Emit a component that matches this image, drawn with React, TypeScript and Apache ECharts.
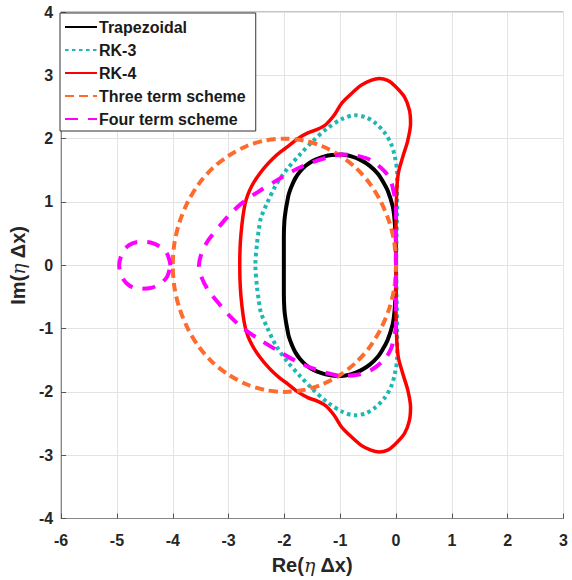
import React, { useEffect, useRef } from "react";
import * as echarts from "echarts";

const xTicks = { min: -6, max: 3, interval: 1 };
const yTicks = { min: -4, max: 4, interval: 1 };

const seriesNames = ["Trapezoidal", "RK-3", "RK-4", "Three term scheme", "Four term scheme"];

const trapUpper = [
  [0, 0], [0, 0.3], [-0.01, 0.5], [-0.03, 0.75], [-0.06, 0.93], [-0.15, 1.18], [-0.24, 1.33],
  [-0.33, 1.45], [-0.47, 1.57], [-0.63, 1.66], [-0.8, 1.72], [-0.98, 1.75], [-1.15, 1.74],
  [-1.28, 1.72], [-1.41, 1.68], [-1.51, 1.64], [-1.62, 1.57], [-1.72, 1.48], [-1.8, 1.38],
  [-1.86, 1.27], [-1.92, 1.13], [-1.95, 1.0], [-1.98, 0.85], [-2.0, 0.7], [-2.01, 0.45],
  [-2.01, 0.2], [-2.01, 0],
];
const trapLower = [
  [-2.01, -0.2], [-2.01, -0.45], [-2.0, -0.7], [-1.98, -0.85], [-1.95, -1.0], [-1.92, -1.13],
  [-1.86, -1.27], [-1.8, -1.38], [-1.72, -1.48], [-1.62, -1.57], [-1.51, -1.64], [-1.41, -1.68],
  [-1.28, -1.72], [-1.15, -1.74], [-0.98, -1.75], [-0.8, -1.72], [-0.63, -1.66], [-0.47, -1.57],
  [-0.33, -1.45], [-0.24, -1.33], [-0.15, -1.18], [-0.06, -0.93], [-0.03, -0.75], [-0.01, -0.5],
  [0, -0.3], [0, 0],
];

const rk3Upper = [
  [0, 0], [0.01, 0.5], [0.02, 1.03], [0.02, 1.45], [-0.02, 1.71], [-0.09, 1.92], [-0.21, 2.1],
  [-0.39, 2.26], [-0.55, 2.34], [-0.74, 2.37], [-0.97, 2.31], [-1.22, 2.17], [-1.48, 1.97],
  [-1.72, 1.75], [-1.95, 1.52], [-2.15, 1.27], [-2.3, 1.0], [-2.42, 0.75], [-2.46, 0.55],
  [-2.49, 0.35], [-2.52, 0],
];
const rk3Lower = [
  [-2.49, -0.35], [-2.46, -0.55], [-2.42, -0.75], [-2.3, -1.0], [-2.15, -1.27], [-1.95, -1.52],
  [-1.72, -1.75], [-1.48, -1.97], [-1.22, -2.17], [-0.97, -2.31], [-0.74, -2.37], [-0.55, -2.34],
  [-0.39, -2.26], [-0.21, -2.1], [-0.09, -1.92], [-0.02, -1.71], [0.02, -1.45], [0.02, -1.03],
  [0.01, -0.5], [0, 0],
];

const rk4Upper = [
  [0, 0], [0, 0.61], [0.01, 1.13], [0.04, 1.45], [0.12, 1.71], [0.21, 1.97], [0.26, 2.24],
  [0.24, 2.45], [0.15, 2.66], [-0.03, 2.84], [-0.15, 2.92], [-0.3, 2.95], [-0.45, 2.92],
  [-0.63, 2.84], [-0.86, 2.66], [-0.98, 2.55], [-1.1, 2.38], [-1.26, 2.22], [-1.4, 2.15],
  [-1.58, 2.09], [-1.76, 2.0], [-1.93, 1.88], [-2.07, 1.79], [-2.2, 1.69], [-2.33, 1.57],
  [-2.44, 1.45], [-2.54, 1.32], [-2.62, 1.19], [-2.68, 1.05], [-2.72, 0.9], [-2.76, 0.65],
  [-2.79, 0.35], [-2.8, 0],
];
const rk4Lower = [
  [-2.79, -0.35], [-2.76, -0.65], [-2.72, -0.9], [-2.68, -1.05], [-2.62, -1.19], [-2.54, -1.32],
  [-2.44, -1.45], [-2.33, -1.57], [-2.2, -1.69], [-2.07, -1.79], [-1.93, -1.88], [-1.76, -2.0],
  [-1.58, -2.09], [-1.4, -2.15], [-1.26, -2.22], [-1.1, -2.38], [-0.98, -2.55], [-0.86, -2.66],
  [-0.63, -2.84], [-0.45, -2.92], [-0.3, -2.95], [-0.15, -2.92], [-0.03, -2.84], [0.15, -2.66],
  [0.24, -2.45], [0.26, -2.24], [0.21, -1.97], [0.12, -1.71], [0.04, -1.45], [0.01, -1.13],
  [0, -0.61], [0, 0],
];

const threeUpper = [
  [0, 0], [-0.03, 0.35], [-0.12, 0.68], [-0.27, 1.0], [-0.47, 1.29], [-0.71, 1.53], [-1.0, 1.73],
  [-1.32, 1.88], [-1.65, 1.97], [-2.0, 2.0], [-2.35, 1.97], [-2.68, 1.88], [-3.0, 1.73],
  [-3.29, 1.53], [-3.53, 1.29], [-3.73, 1.0], [-3.88, 0.68], [-3.97, 0.35], [-4.0, 0],
];
const threeLower = [
  [-3.97, -0.35], [-3.88, -0.68], [-3.73, -1.0], [-3.53, -1.29], [-3.29, -1.53], [-3.0, -1.73],
  [-2.68, -1.88], [-2.35, -1.97], [-2.0, -2.0], [-1.65, -1.97], [-1.32, -1.88], [-1.0, -1.73],
  [-0.71, -1.53], [-0.47, -1.29], [-0.27, -1.0], [-0.12, -0.68], [-0.03, -0.35], [0, 0],
];

const fourUpper = [
  [0, 0], [0, 0.45], [0, 0.95], [-0.04, 1.15], [-0.09, 1.32], [-0.2, 1.48], [-0.45, 1.66],
  [-0.7, 1.73], [-0.97, 1.75], [-1.2, 1.71], [-1.49, 1.63], [-1.78, 1.52], [-2.08, 1.37],
  [-2.47, 1.16], [-2.75, 0.99], [-2.96, 0.82], [-3.15, 0.63], [-3.36, 0.4], [-3.48, 0.2],
  [-3.53, 0],
];
const fourLower = [
  [-3.48, -0.2], [-3.36, -0.4], [-3.15, -0.63], [-2.96, -0.82], [-2.75, -0.99], [-2.47, -1.16],
  [-2.08, -1.37], [-1.78, -1.52], [-1.49, -1.63], [-1.2, -1.71], [-0.97, -1.75], [-0.7, -1.73],
  [-0.45, -1.66], [-0.2, -1.48], [-0.09, -1.32], [-0.04, -1.15], [0, -0.95], [0, -0.45], [0, 0],
];
const fourLoop = [
  [-4.04, 0], [-4.1, 0.18], [-4.22, 0.29], [-4.4, 0.36], [-4.6, 0.37], [-4.78, 0.32], [-4.9, 0.2],
  [-4.96, 0], [-4.9, -0.2], [-4.78, -0.32], [-4.6, -0.37], [-4.4, -0.36], [-4.22, -0.29],
  [-4.1, -0.18], [-4.04, 0],
];

const FONT = "'Liberation Sans', Arial, Helvetica, sans-serif";

export default function App() {
  const ref = useRef<HTMLDivElement>(null);
  useEffect(() => {
    if (!ref.current) return;
    const chart = echarts.init(ref.current, undefined, { renderer: "svg" });
    const lineBase = (name: string, data: number[][], color: string, width: number, type: any, z: number) => ({
      name,
      type: "line",
      data,
      showSymbol: false,
      symbol: "none",
      smooth: 0.3,
      z,
      lineStyle: { color, width, type, cap: "butt", join: "round" },
      itemStyle: { color },
    });
    const axisLabel = { fontFamily: FONT, fontWeight: "bold", fontSize: 16, color: "#262626" };
    const nameRich = {
      b: { fontFamily: FONT, fontWeight: "bold", fontSize: 20, color: "#262626" },
      i: { fontFamily: "'DejaVu Serif', 'Liberation Serif', serif", fontStyle: "italic", fontSize: 19, color: "#262626" },
    };
    chart.setOption({
      animation: false,
      backgroundColor: "#ffffff",
      grid: {
        left: 58.5,
        right: 8.5,
        top: 12,
        bottom: 61.5,
        show: true,
        borderColor: "#888888",
        borderWidth: 1,
        containLabel: false,
      },
      legend: {
        data: seriesNames,
        orient: "vertical",
        left: 60,
        top: 13,
        padding: [6, 10, 4, 4],
        itemGap: 7,
        itemWidth: 32,
        itemHeight: 15,
        itemStyle: { opacity: 0 },
        borderColor: "#333333",
        borderWidth: 1,
        borderRadius: 0,
        backgroundColor: "#ffffff",
        textStyle: { fontFamily: FONT, fontWeight: "bold", fontSize: 16, color: "#1a1a1a", padding: [0, 0, 0, -3] },
      },
      xAxis: {
        type: "value",
        ...xTicks,
        name: "{b|Re(}{i|η}{b| Δx)}",
        nameLocation: "middle",
        nameGap: 36,
        nameTextStyle: { rich: nameRich },
        axisLine: { show: true, onZero: false, lineStyle: { color: "#888888", width: 1 } },
        axisTick: { show: true, inside: true, length: 5, lineStyle: { color: "#555555" } },
        axisLabel: { ...axisLabel, margin: 14 },
        splitLine: { show: true, lineStyle: { color: "#e3e3e3", width: 1 } },
      },
      yAxis: {
        type: "value",
        ...yTicks,
        name: "{b|Im(}{i|η}{b| Δx)}",
        nameLocation: "middle",
        nameGap: 30,
        nameTextStyle: { rich: nameRich },
        axisLine: { show: true, onZero: false, lineStyle: { color: "#888888", width: 1 } },
        axisTick: { show: true, inside: true, length: 5, lineStyle: { color: "#555555" } },
        axisLabel: { ...axisLabel, margin: 8 },
        splitLine: { show: true, lineStyle: { color: "#e3e3e3", width: 1 } },
      },
      series: [
        lineBase(seriesNames[0], trapUpper.concat(trapLower), "#000000", 4, "solid", 2),
        lineBase(seriesNames[1], rk3Upper.concat(rk3Lower), "#1db8b3", 4, [3.5, 3.5], 3),
        lineBase(seriesNames[2], rk4Upper.concat(rk4Lower), "#ff0000", 3.5, "solid", 4),
        lineBase(seriesNames[3], threeUpper.concat(threeLower), "#ff6b2c", 4, [9, 5], 5),
        lineBase(seriesNames[4], fourUpper.concat(fourLower), "#ff00ff", 4, [13, 10], 6),
        lineBase(seriesNames[4], fourLoop, "#ff00ff", 4, [13, 10], 6),
      ],
    });
    return () => chart.dispose();
  }, []);
  return (
    <div
      ref={ref}
      style={{ position: "fixed", left: 0, top: 0, width: 572, height: 580, background: "#fff" }}
    />
  );
}
